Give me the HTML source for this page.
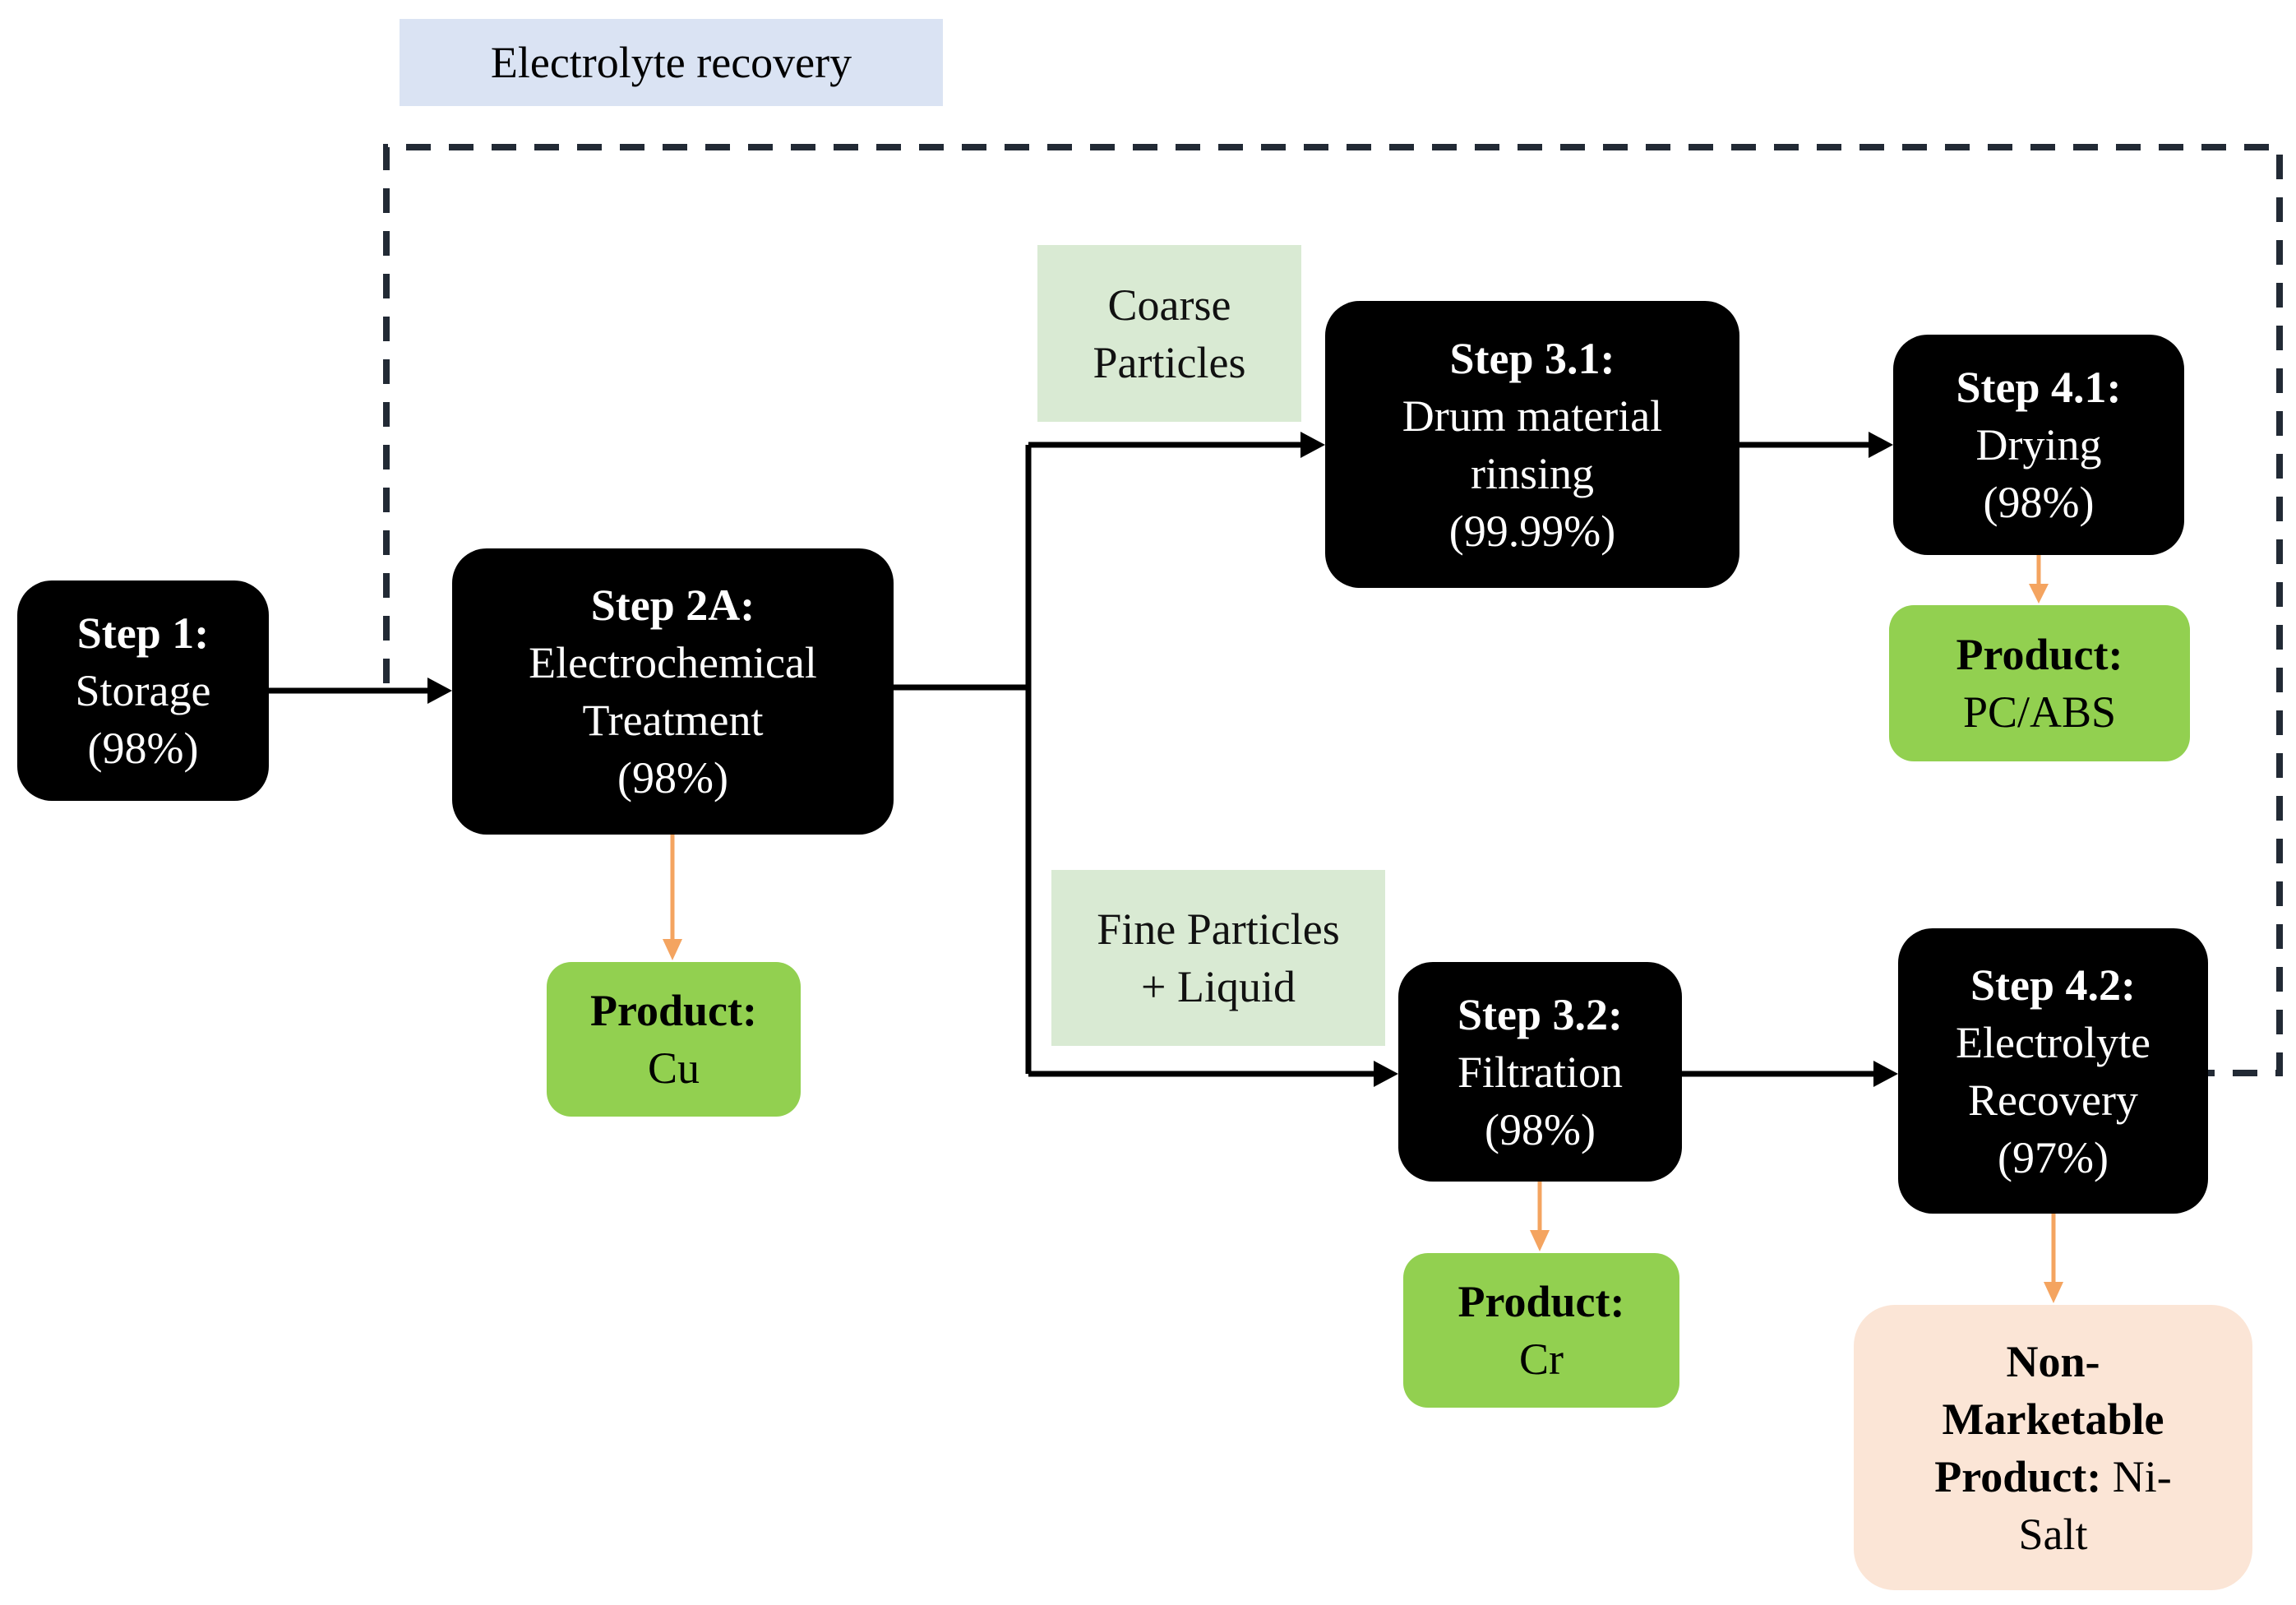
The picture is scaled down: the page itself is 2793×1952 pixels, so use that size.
<!DOCTYPE html>
<html><head><meta charset="utf-8">
<style>
body{margin:0;width:2793px;height:1952px;background:#fff;position:relative;overflow:hidden;font-family:"Liberation Serif",serif;}
.b{position:absolute;display:flex;flex-direction:column;align-items:center;justify-content:center;text-align:center;font-size:54px;line-height:70px;box-sizing:border-box;}
.k{background:#000;color:#fff;border-radius:42px;}
.g{background:#92d050;color:#000;border-radius:30px;}
.p{background:#fbe5d6;color:#000;border-radius:50px;}
.l{background:#d9ead3;color:#111;}
b{font-weight:bold;}
svg{position:absolute;left:0;top:0;}
</style></head><body>
<svg width="2793" height="1952">
<defs>
<marker id="ab" markerWidth="10" markerHeight="10" refX="9" refY="5" orient="auto" markerUnits="userSpaceOnUse" viewBox="0 0 10 10"><path d="M0,0L10,5L0,10z" fill="#000"/></marker>
<marker id="ao" markerWidth="10" markerHeight="10" refX="9" refY="5" orient="auto" viewBox="0 0 10 10" markerUnits="userSpaceOnUse"><path d="M0,0L10,5L0,10z" fill="#f4a460"/></marker>
</defs>
<g fill="none" stroke="#222a35" stroke-width="8" stroke-dasharray="30,22">
<path d="M470,831 V179 H2773 V1305 H2686"/>
</g>
<g stroke="#000" stroke-width="7" fill="none">
<line x1="327" y1="840" x2="530" y2="840"/>
<path d="M1087,836 H1251"/>
<path d="M1251,541 V1306"/>
<line x1="1251" y1="541" x2="1592" y2="541"/>
<line x1="2116" y1="541" x2="2283" y2="541"/>
<line x1="1251" y1="1306" x2="1681" y2="1306"/>
<line x1="2046" y1="1306" x2="2289" y2="1306"/>
</g>
<g fill="#000">
<path d="M550,840 l-30,-16 v32z"/>
<path d="M1612,541 l-30,-16 v32z"/>
<path d="M2303,541 l-30,-16 v32z"/>
<path d="M1701,1306 l-30,-16 v32z"/>
<path d="M2309,1306 l-30,-16 v32z"/>
</g>
<g stroke="#f4a460" stroke-width="5">
<line x1="818" y1="1015" x2="818" y2="1145"/>
<line x1="2480" y1="675" x2="2480" y2="715"/>
<line x1="1873" y1="1437" x2="1873" y2="1500"/>
<line x1="2498" y1="1476" x2="2498" y2="1562"/>
</g>
<g fill="#f4a460">
<path d="M818,1168 l-12,-26 h24z"/>
<path d="M2480,734 l-12,-24 h24z"/>
<path d="M1873,1522 l-12,-26 h24z"/>
<path d="M2498,1585 l-12,-26 h24z"/>
</g>
</svg>
<div class="b" style="left:486px;top:23px;width:661px;height:106px;background:#dae3f3;">Electrolyte recovery</div>
<div class="b k" style="left:21px;top:706px;width:306px;height:268px;"><b>Step 1:</b>Storage<br>(98%)</div>
<div class="b k" style="left:550px;top:667px;width:537px;height:348px;"><b>Step 2A:</b>Electrochemical<br>Treatment<br>(98%)</div>
<div class="b l" style="left:1262px;top:298px;width:321px;height:215px;">Coarse<br>Particles</div>
<div class="b k" style="left:1612px;top:366px;width:504px;height:349px;"><b>Step 3.1:</b>Drum material<br>rinsing<br>(99.99%)</div>
<div class="b k" style="left:2303px;top:407px;width:354px;height:268px;"><b>Step 4.1:</b>Drying<br>(98%)</div>
<div class="b g" style="left:2298px;top:736px;width:366px;height:190px;"><b>Product:</b>PC/ABS</div>
<div class="b g" style="left:665px;top:1170px;width:309px;height:188px;"><b>Product:</b>Cu</div>
<div class="b l" style="left:1279px;top:1058px;width:406px;height:214px;">Fine Particles<br>+ Liquid</div>
<div class="b k" style="left:1701px;top:1170px;width:345px;height:267px;"><b>Step 3.2:</b>Filtration<br>(98%)</div>
<div class="b k" style="left:2309px;top:1129px;width:377px;height:347px;"><b>Step 4.2:</b>Electrolyte<br>Recovery<br>(97%)</div>
<div class="b g" style="left:1707px;top:1524px;width:336px;height:188px;"><b>Product:</b>Cr</div>
<div class="b p" style="left:2255px;top:1587px;width:485px;height:347px;"><b>Non-</b><b>Marketable</b><span><b>Product:</b> Ni-</span>Salt</div>
</body></html>
